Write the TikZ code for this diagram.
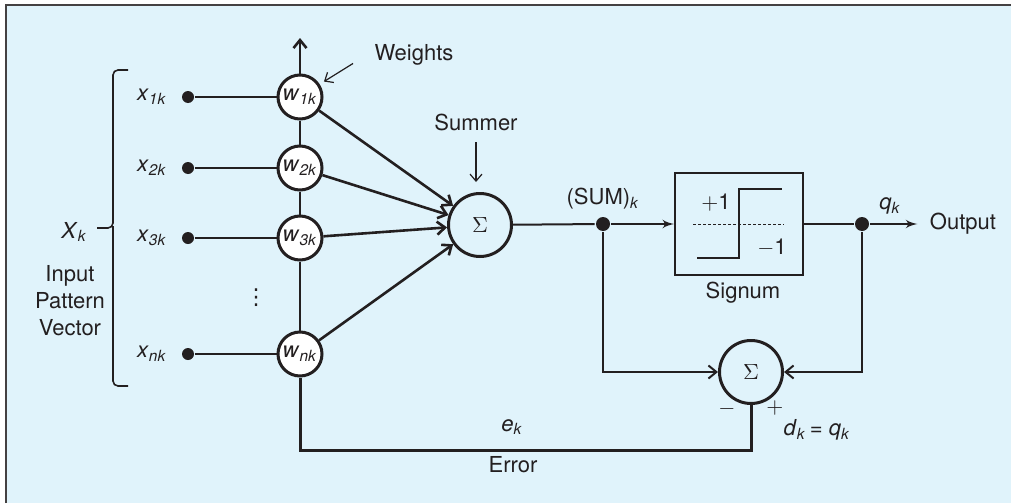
\documentclass[tikz,border=0pt]{standalone}
\usepackage{fontspec}
\setmainfont{TeX Gyre Heros}
\newfontfamily\symfont{DejaVu Sans}
\usetikzlibrary{arrows,arrows.meta,positioning,calc}
\definecolor{bgblue}{RGB}{224,243,251}
\definecolor{ink}{RGB}{35,31,32}
\def\V#1#2{\textit{#1}\textsubscript{\textit{#2}}}

\begin{document}
\begin{tikzpicture}[x=0.5pt,y=-0.5pt,>=latex',font=\fontsize{11}{13.5}\selectfont,line width=1.3pt,draw=ink,text=ink,
    wnode/.style={circle,draw,fill=white,minimum size=22pt,inner sep=0pt,line width=1.5pt},
    sumnode/.style={circle,draw,minimum size=31.5pt,inner sep=0pt,line width=1.5pt},
    indot/.style={circle,fill=ink,minimum size=6pt,inner sep=0pt},
    jdot/.style={circle,fill=ink,minimum size=7pt,inner sep=0pt},
    chev/.style={-{Straight Barb[length=4pt,width=6.5pt]}},
    pointer/.style={line width=0.6pt,-{Straight Barb[length=3.5pt,width=6pt]}}]
    \useasboundingbox (0,0) rectangle (1011,503);
    \fill[bgblue] (6,5) rectangle (1011,503);
    \draw[ink!85,line width=1pt] (5.5,503) -- (5.5,4.5) -- (1011,4.5);

    % inputs and weights
    \foreach \i/\y in {1/97,2/168,3/238,n/354} {
        \node[indot] (x\i) at (188,\y) {};
        \node[left=3pt of x\i] (xl\i) {\V{x}{\i k}};
        \node[wnode] (w\i) at (300,\y) {\V{w}{\i k}};
        \draw (x\i) -- (w\i);
    }
    \draw (w1) -- (w2) -- (w3) -- (wn);
    \coordinate (wtop) at (300,38);
    \draw[chev] (w1) -- (wtop);
    \node (vdots) at (256,298) {\symfont ⋮};

    \node (weights) at (414,55) {Weights};
    \draw[pointer,shorten <=8pt,shorten >=2.5pt] (weights.west) -- (w1.33);

    % input pattern brace
    \coordinate (btip) at (97,228);
    \draw[line width=0.8pt,rounded corners=2.5pt] (128,70) -- (113,70) -- (113,228) -- (btip);
    \draw[line width=0.8pt,rounded corners=2.5pt] (113,226) -- (113,386) -- (128,386);
    \node[left=1pt of btip,yshift=-2pt] (Xk) {\V{X}{k}};
    \node[align=center] (ipv) at (70,301) {Input\\Pattern\\Vector};

    % summer
    \node[sumnode] (sum1) at (480,225) {$\Sigma$};
    \foreach \i in {1,2,3,n}
        \draw[chev] (w\i) -- (sum1);
    \node (summer) at (476,122) {Summer};
    \draw[pointer,shorten <=2pt,shorten >=5pt] (summer) -- (summer |- sum1.north);

    % signum block
    \node[draw,line width=1pt,minimum width=64pt,minimum height=51pt,inner sep=0pt] (sig) at (739,224) {};
    \draw[line width=1pt] (697,258) -- (739,258) -- (739,189) -- (782,189);
    \draw[line width=0.5pt,dash pattern=on 1.5pt off 1pt] (693,224) -- (784,224);
    \node at (716,203) {$+$1};
    \node at (772,248) {$-$1};
    \node (signum) at (743,293) {Signum};

    \node[jdot] (jsum) at (603,224) {};
    \node[jdot] (jout) at (862,224) {};
    \draw[line width=1pt] (sum1) -- (jsum);
    \draw[line width=1pt,->] (jsum) -- (sig);
    \node at (603,199) {(SUM)\textsubscript{\textit{k}}};
    \draw[line width=1pt] (sig) -- (jout);
    \node[outer sep=3pt] (output) at (963,224) {Output};
    \draw[line width=1pt,->] (jout) -- (output);
    \node at (890,206) {\V{q}{k}};

    % error feedback
    \node[sumnode] (sum2) at (751,372) {$\Sigma$};
    \draw[line width=1pt,chev] (jsum) |- (sum2);
    \draw[line width=1pt,chev] (jout) |- (sum2);
    \coordinate (ecorner) at (300,450);
    \draw[line width=1.5pt] (wn) -- (ecorner) -| (sum2);
    \node at (727,409) {$-$};
    \node at (775,408) {$+$};
    \node at (817,430) {\V{d}{k}\,= \V{q}{k}};
    \node at (512,427) {\V{e}{k}};
    \node at (513,465) {Error};
\end{tikzpicture}
\end{document}
